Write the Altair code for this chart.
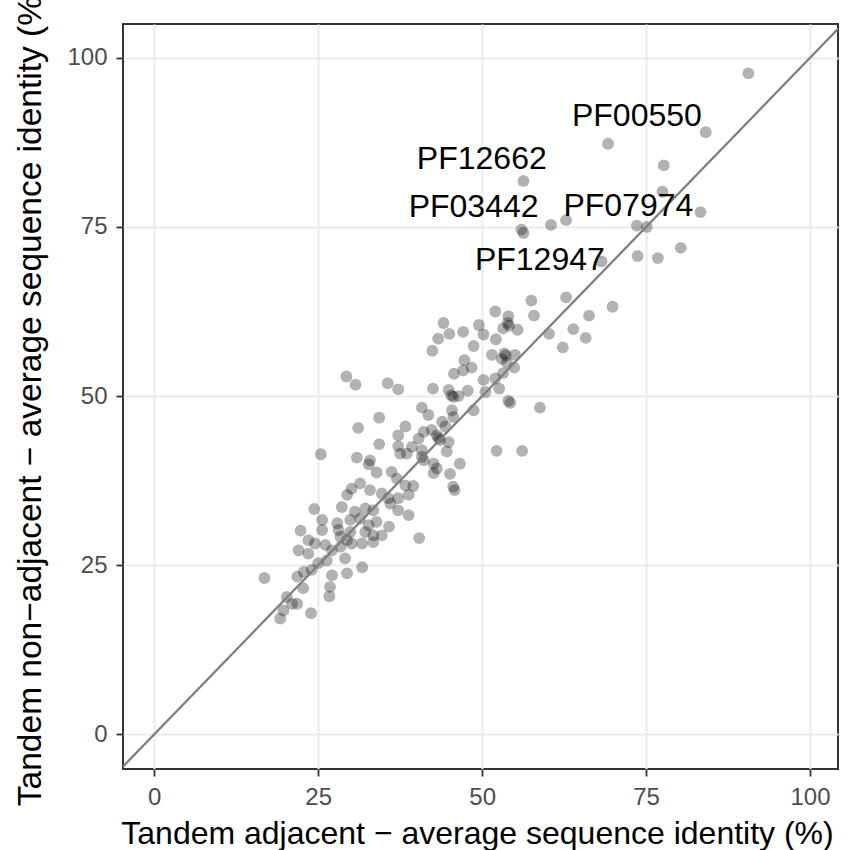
import altair as alt
import pandas as pd

# Tandem adjacent (x) vs tandem non-adjacent (y) average sequence identity (%)
x_adj = [
    90.6, 84.1, 69.2, 77.7, 56.3, 77.5, 83.3, 62.8, 60.5, 56.0, 56.3, 73.6, 75.1, 80.3, 73.7, 76.8, 68.2,
    62.8, 69.9, 57.5, 57.9, 66.3, 63.9, 60.2, 65.8, 62.3, 52.0, 54.0, 44.1, 49.5, 47.1, 45.0, 43.3, 50.2,
    53.9, 54.1, 53.2, 55.4, 52.1, 48.7, 42.4, 51.5, 53.4, 53.6, 53.0, 55.0, 47.3, 48.4, 47.1, 54.9, 53.8,
    45.7, 53.2, 50.2, 52.0, 42.5, 44.9, 52.6, 47.8, 45.3, 45.6, 50.5, 54.3, 54.0, 58.8, 48.7, 46.4, 40.8,
    41.8, 45.4, 45.6, 43.9, 44.4, 38.3, 37.2, 41.1, 42.3, 43.1, 44.9, 43.6, 43.3, 40.3, 39.3, 40.8, 38.5,
    44.6, 46.6, 42.6, 43.1, 42.6, 45.1, 41.1, 52.2, 56.1, 45.6, 45.8, 38.3, 39.5, 37.2, 35.6, 29.3, 30.7,
    34.3, 31.1, 34.3, 25.4, 30.9, 32.9, 37.2, 37.5, 32.7, 33.9, 36.2, 40.8, 37.0, 30.1, 31.4, 29.4, 32.9,
    34.7, 35.7, 37.2, 38.8, 28.6, 32.2, 30.6, 33.4, 36.0, 37.2, 24.4, 25.6, 27.9, 29.9, 31.4, 32.7, 33.9,
    35.8, 38.8, 22.3, 25.6, 28.1, 29.9, 32.2, 33.4, 34.7, 40.4, 23.5, 24.5, 26.1, 29.4, 30.1, 31.7, 33.4,
    22.0, 23.5, 27.1, 28.4, 26.3, 29.1, 31.7, 25.0, 22.8, 21.8, 27.1, 29.4, 26.8, 26.7, 16.8, 24.0, 22.7,
    20.2, 21.0, 21.8, 19.7, 23.9, 19.2, 28.4,
]
y_nonadj = [
    97.7, 89.0, 87.3, 84.1, 81.8, 80.2, 77.2, 76.0, 75.3, 74.6, 74.1, 75.2, 75.0, 71.9, 70.7, 70.4, 69.9,
    64.6, 63.2, 64.1, 61.9, 61.9, 59.9, 59.2, 58.6, 57.2, 62.5, 61.8, 60.8, 60.5, 59.5, 59.2, 58.5, 59.1,
    60.8, 60.4, 60.0, 59.8, 58.4, 57.4, 56.7, 56.1, 56.3, 56.0, 55.5, 56.1, 55.3, 54.2, 53.8, 54.2, 54.9,
    53.3, 53.4, 52.4, 52.6, 51.1, 50.9, 51.1, 50.8, 50.1, 49.9, 50.6, 49.0, 49.3, 48.3, 47.9, 50.0, 48.3,
    47.2, 47.9, 46.9, 46.2, 45.5, 45.5, 44.2, 44.7, 45.0, 44.2, 43.2, 43.5, 43.8, 43.7, 42.5, 42.0, 41.5,
    41.8, 40.0, 40.0, 39.3, 38.6, 38.5, 40.5, 41.9, 41.9, 36.6, 36.1, 36.8, 36.7, 51.0, 51.9, 52.9, 51.7,
    46.8, 45.3, 42.9, 41.4, 40.9, 40.5, 42.6, 41.5, 39.9, 38.7, 38.8, 41.0, 37.8, 36.3, 37.1, 35.4, 36.1,
    35.6, 34.9, 34.9, 35.4, 33.6, 33.4, 32.9, 33.1, 34.1, 33.1, 33.3, 31.7, 31.2, 31.7, 31.9, 30.9, 31.4,
    30.7, 32.4, 30.1, 30.2, 30.2, 29.9, 29.9, 29.4, 29.4, 29.0, 28.7, 28.2, 28.0, 28.7, 28.2, 28.2, 28.4,
    27.2, 26.7, 27.2, 27.7, 25.7, 26.0, 24.7, 25.3, 24.0, 23.3, 23.5, 23.8, 21.8, 20.4, 23.1, 24.3, 21.6,
    20.3, 19.3, 19.3, 18.3, 17.9, 17.1, 29.2,
]

label_names = ["PF00550", "PF12662", "PF03442", "PF07974", "PF12947"]
label_x = [73.6, 49.95, 48.7, 72.3, 58.8]
label_y = [89.9, 83.6, 76.5, 76.6, 68.6]

diag_vals = [-10, 110]
tick_vals = [0, 25, 50, 75, 100]

X_DOM = [-4.77, 104.27]
Y_DOM = [-5.13, 105.0]

FONT = "Liberation Sans"

pts = pd.DataFrame({"x": x_adj, "y": y_nonadj})
labs = pd.DataFrame({"x": label_x, "y": label_y, "name": label_names})
diag = pd.DataFrame({"x": diag_vals, "y": diag_vals})

xscale = alt.Scale(domain=X_DOM, nice=False, zero=False)
yscale = alt.Scale(domain=Y_DOM, nice=False, zero=False)

xaxis = alt.Axis(
    values=tick_vals, title="Tandem adjacent \u2212 average sequence identity (%)",
    labelFont=FONT, labelFontSize=24, labelColor="#4d4d4d", labelPadding=9,
    tickSize=7, tickColor="#333333", tickWidth=1.8,
    grid=True, gridColor="#ebebeb", gridWidth=2, domain=False,
    titleFont=FONT, titleFontSize=32, titleFontWeight="normal", titleColor="black",
    titleBaseline="alphabetic", titleY=74.6, titleX=354,
)
yaxis = alt.Axis(
    values=tick_vals, title="Tandem non\u2212adjacent \u2212 average sequence identity (%)",
    labelFont=FONT, labelFontSize=24, labelColor="#4d4d4d", labelPadding=9,
    tickSize=7, tickColor="#333333", tickWidth=1.8,
    grid=True, gridColor="#ebebeb", gridWidth=2, domain=False,
    titleFont=FONT, titleFontSize=33.5, titleFontWeight="normal", titleColor="black",
    titleBaseline="alphabetic", titleX=-82.7, titleY=371, titleAngle=270,
)

points = alt.Chart(pts).mark_circle(size=140, opacity=0.3, color="black").encode(
    x=alt.X("x:Q", scale=xscale, axis=xaxis),
    y=alt.Y("y:Q", scale=yscale, axis=yaxis),
)

line = alt.Chart(diag).mark_line(color="#7f7f7f", strokeWidth=2.3, clip=True).encode(
    x=alt.X("x:Q", scale=xscale),
    y=alt.Y("y:Q", scale=yscale),
)

texts = alt.Chart(labs).mark_text(
    font=FONT, fontSize=32, align="center", baseline="alphabetic", color="black"
).encode(
    x=alt.X("x:Q", scale=xscale),
    y=alt.Y("y:Q", scale=yscale),
    text="name:N",
)

chart = alt.layer(points, line, texts).properties(
    width=715, height=745,
    background="white",
    autosize=alt.AutoSizeParams(type="none"),
    padding={"left": 123, "top": 24, "right": 9, "bottom": 81},
).configure_view(
    stroke="#333333", strokeWidth=2, fill="white"
)

chart.save("out.html", embed_options={"renderer": "svg", "actions": False})
